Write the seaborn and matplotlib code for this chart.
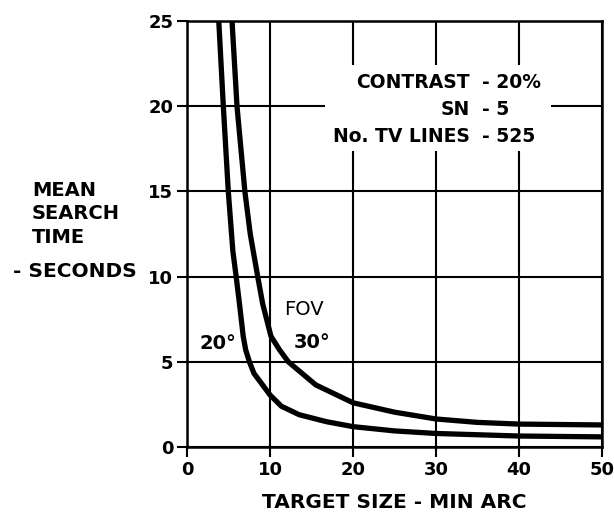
import matplotlib
matplotlib.use("Agg")
import matplotlib.pyplot as plt
from matplotlib.patches import Rectangle
import seaborn as sns
import pandas as pd

# ---- data ----
fov20_x = [3.8, 4.35, 4.95, 5.5, 5.9, 6.3, 6.75, 7.05, 7.5, 8.05, 8.7, 10, 11.35,
           13.5, 16.8, 20, 25, 30, 40, 50]
fov20_y = [25, 20, 15, 11.5, 10, 8.4, 6.5, 5.7, 5, 4.32, 3.9, 3.05, 2.4,
           1.9, 1.49, 1.2, 0.95, 0.8, 0.65, 0.6]
fov30_x = [5.4, 6.0, 6.95, 7.6, 8.5, 9.1, 10.1, 11.14, 12.2, 15.5, 20, 25, 30,
           35, 40, 50]
fov30_y = [25, 20, 15, 12.5, 10, 8.4, 6.5, 5.7, 5, 3.65, 2.6, 2.05, 1.65,
           1.45, 1.35, 1.3]
x_ticks = [0, 10, 20, 30, 40, 50]
y_ticks = [0, 5, 10, 15, 20, 25]
note_left = ["CONTRAST", "SN", "No. TV LINES"]
note_right = ["- 20%", "- 5", "- 525"]

df = pd.concat([
    pd.DataFrame({"x": fov20_x, "y": fov20_y, "fov": "20"}),
    pd.DataFrame({"x": fov30_x, "y": fov30_y, "fov": "30"}),
])

sns.set_theme(style="white")
plt.rcParams["font.family"] = ["DejaVu Sans"]
plt.rcParams["font.weight"] = "bold"
for k in ["text.color", "axes.labelcolor", "xtick.color", "ytick.color"]:
    plt.rcParams[k] = "black"

fig = plt.figure(figsize=(6.14, 5.26), dpi=100)
ax = fig.add_axes([0.305, 0.150, 0.675, 0.810])

sns.lineplot(data=df, x="x", y="y", hue="fov", palette=["black", "black"],
             sort=False, estimator=None, linewidth=3.8, legend=False, ax=ax,
             zorder=5)

ax.set_xlim(0, 50)
ax.set_ylim(0, 25)
ax.set_xticks(x_ticks)
ax.set_yticks(y_ticks)
ax.set_xticklabels([str(v) for v in x_ticks], fontsize=13, fontweight="bold")
ax.set_yticklabels([str(v) for v in y_ticks], fontsize=13, fontweight="bold")
ax.grid(True, color="black", linewidth=1.5)
for s in ax.spines.values():
    s.set_color("black")
    s.set_linewidth(1.8)
ax.tick_params(axis="both", direction="out", length=7, width=1.5,
               color="black", pad=3, bottom=True, left=True)
ax.set_xlabel("TARGET SIZE - MIN ARC", fontsize=14.5, fontweight="bold", labelpad=10)
ax.set_ylabel("")

fig.text(0.052, 0.656, "MEAN\nSEARCH\nTIME", fontsize=14, fontweight="bold",
         ha="left", va="top", linespacing=1.3)
fig.text(0.021, 0.502, "- SECONDS", fontsize=14.5, fontweight="bold",
         ha="left", va="top")

# white background behind the note (breaks the grid like the original)
ax.add_patch(Rectangle((16.6, 17.4), 27.3, 5.0, facecolor="white",
                       edgecolor="none", zorder=4))
ys = [21.4, 19.8, 18.2]
for lt, rt, yy in zip(note_left, note_right, ys):
    ax.text(34.1, yy, lt, fontsize=13.5, fontweight="bold", ha="right",
            va="center", zorder=6)
    ax.text(35.5, yy, rt, fontsize=13.5, fontweight="bold", ha="left",
            va="center", zorder=6)

ax.text(14.1, 8.1, "FOV", fontsize=14, fontweight="normal", ha="center",
        va="center", zorder=6)
ax.text(3.7, 6.1, "20°", fontsize=14, fontweight="bold", ha="center",
        va="center", zorder=6)
ax.text(15.0, 6.15, "30°", fontsize=14, fontweight="bold", ha="center",
        va="center", zorder=6)

fig.savefig("out.png", dpi=100, facecolor="white")
